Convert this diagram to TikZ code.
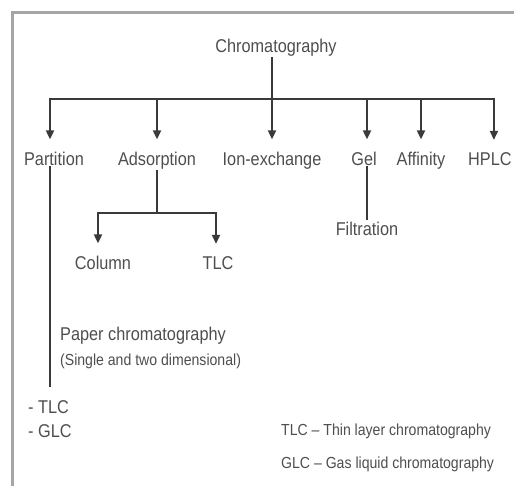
\documentclass[tikz,border=0pt]{standalone}
\usepackage{fontspec}
\setmainfont{Liberation Sans}[FakeStretch=0.88]
\usetikzlibrary{arrows.meta, positioning, calc}
\definecolor{inkc}{RGB}{78,78,78}
\definecolor{linec}{RGB}{58,58,58}
\definecolor{framec}{RGB}{165,165,165}
\tikzset{
  lbl/.style={font=\fontsize{18.5}{21}\selectfont, text=inkc, inner sep=1pt, anchor=base},
  lblw/.style={lbl, anchor=base west},
  note/.style={font=\fontsize{16}{19}\selectfont, text=inkc, inner sep=1pt, anchor=base west},
  line/.style={draw=linec, line width=1.8pt},
  arr/.style={line, -{Triangle[length=9pt, width=8pt]}, shorten >=11pt},
  frame/.style={draw=framec, line width=3pt},
}

\begin{document}
\begin{tikzpicture}[x=1pt, y=-1pt]
  \useasboundingbox (0,0) rectangle (514,485);

  % page frame, top and left edges only
  \draw[frame] (12,486) -- (12,12) -- (515,12);

  \node[lbl] (chrom) at (276,52) {Chromatography};

  \node[lbl] (partition)  at (54,165)  {Partition};
  \node[lbl] (adsorption) at (157,165) {Adsorption};
  \node[lbl] (ionex)      at (272,165) {Ion-exchange};
  \node[lbl] (gel)        at (364,165) {Gel};
  \node[lbl] (affinity)   at (421,165) {Affinity};
  \node[lblw] (hplc)      at (467,165) {HPLC};

  \node[lbl] (column) at (103,269) {Column};
  \node[lbl] (tlc)    at (218,269) {TLC};

  \node[lbl] (filtration) at (367,235) {Filtration};

  \node[lblw] (paper)  at (59,340) {Paper chromatography};
  \node[note] (single) at (59,365) {(Single and two dimensional)};

  \node[lblw] (parttlc) at (27,413) {- TLC};
  \node[lblw] (partglc) at (27,437) {- GLC};

  \node[note] (legtlc) at (280,435) {TLC -- Thin layer chromatography};
  \node[note] (legglc) at (280,468) {GLC -- Gas liquid chromatography};

  \coordinate (junc) at (272,99);
  \coordinate (partend) at (50,387);
  \coordinate (adsj) at (157,213);

  \draw[line] (junc |- chrom.south) -- (junc);
  \draw[arr] (junc) -| (partend |- partition.north);
  \draw[arr] (junc) -| (adsorption);
  \draw[arr] (junc) -- (ionex);
  \draw[arr] (junc) -| ([xshift=3pt]gel.north);
  \draw[arr] (junc) -| (affinity);
  \draw[arr] (junc) -| ([xshift=4pt]hplc.north);

  \draw[line] (partend |- partition.south) -- (partend);

  \draw[line] (adsj |- adsorption.south) -- (adsj);
  \draw[arr] (adsj) -| ([xshift=-5pt]column.north);
  \draw[arr] (adsj) -| ([xshift=-2pt]tlc.north);

  \draw[line] (filtration.north |- gel.south) -- (filtration);

\end{tikzpicture}
\end{document}
